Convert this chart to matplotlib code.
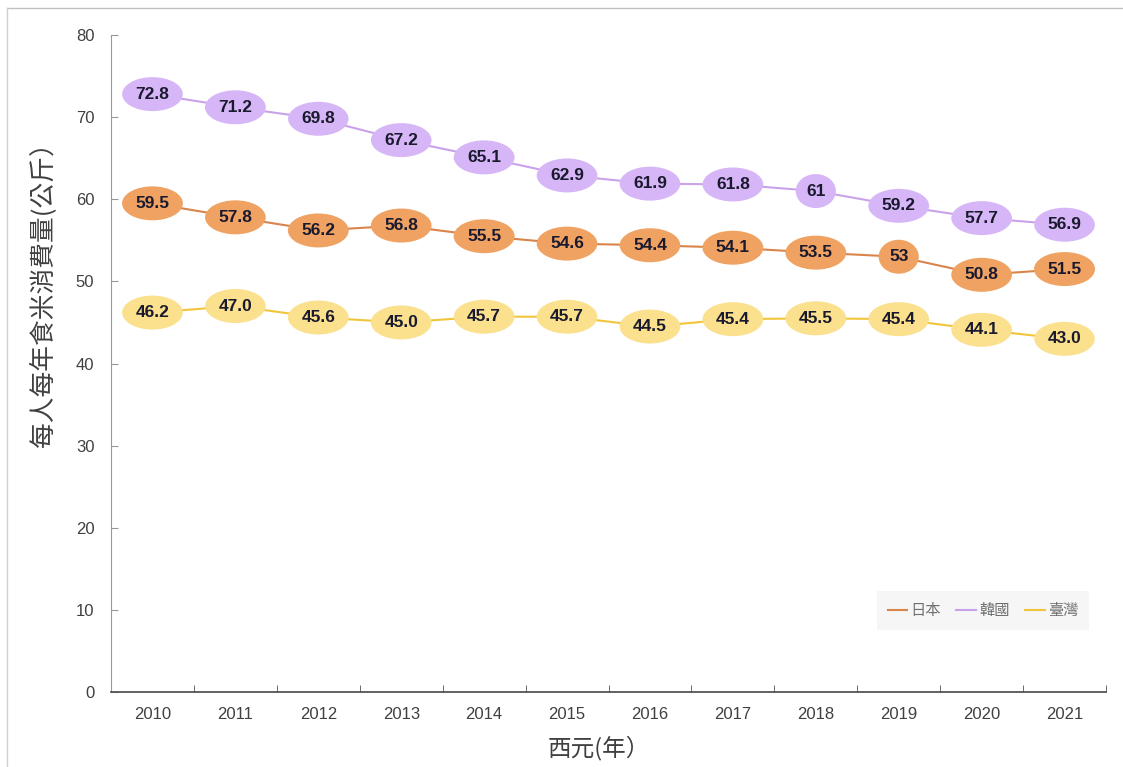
import matplotlib.pyplot as plt
from matplotlib.lines import Line2D

plt.rcParams['font.family'] = ['Liberation Sans', 'Noto Sans CJK TC', 'DejaVu Sans']

years = ['2010', '2011', '2012', '2013', '2014', '2015', '2016', '2017', '2018', '2019', '2020', '2021']
japan = [59.5, 57.8, 56.2, 56.8, 55.5, 54.6, 54.4, 54.1, 53.5, 53, 50.8, 51.5]
korea = [72.8, 71.2, 69.8, 67.2, 65.1, 62.9, 61.9, 61.8, 61, 59.2, 57.7, 56.9]
taiwan = [46.2, 47.0, 45.6, 45.0, 45.7, 45.7, 44.5, 45.4, 45.5, 45.4, 44.1, 43.0]
japan_lbl = ['59.5', '57.8', '56.2', '56.8', '55.5', '54.6', '54.4', '54.1', '53.5', '53', '50.8', '51.5']
korea_lbl = ['72.8', '71.2', '69.8', '67.2', '65.1', '62.9', '61.9', '61.8', '61', '59.2', '57.7', '56.9']
taiwan_lbl = ['46.2', '47.0', '45.6', '45.0', '45.7', '45.7', '44.5', '45.4', '45.5', '45.4', '44.1', '43.0']

fig = plt.figure(figsize=(11.23, 7.67), dpi=100)
ax = fig.add_axes([111 / 1123, 75 / 767, 995 / 1123, 657 / 767])

x = list(range(len(years)))
series = [
    ('日本', japan, japan_lbl, '#d9844a', '#f0a262'),
    ('韓國', korea, korea_lbl, '#c9a2ea', '#d7b6f7'),
    ('臺灣', taiwan, taiwan_lbl, '#f0c53a', '#fbe08e'),
]
for name, vals, lbls, lc, fc in series:
    ax.plot(x, vals, color=lc, lw=1.5, label=name, zorder=2)
    for xi, v, t in zip(x, vals, lbls):
        ax.text(xi, v, t, ha='center', va='center', fontsize=12.5, fontweight='bold',
                color='#1a1a2e', zorder=3,
                bbox=dict(boxstyle='ellipse,pad=0.26', fc=fc, ec='none'))

ax.set_xlim(-0.5, len(years) - 0.5)
ax.set_ylim(0, 80)
ax.set_yticks(range(0, 81, 10))
ax.set_xticks(x)
ax.set_xticklabels(years)
ax.set_xticks([i - 0.5 for i in range(len(years) + 1)], minor=True)
ax.tick_params(axis='x', which='major', length=0, pad=11, labelsize=12, labelcolor='#404040')
ax.tick_params(axis='x', which='minor', direction='in', length=5, color='#555555')
ax.tick_params(axis='y', direction='in', length=5, color='#999999', pad=12, labelsize=12,
               labelcolor='#404040')

for s in ['top', 'right']:
    ax.spines[s].set_visible(False)
ax.spines['left'].set_color('#999999')
ax.spines['bottom'].set_color('#555555')
ax.spines['bottom'].set_linewidth(1.3)

ax.set_ylabel('每人每年食米消費量(公斤）', fontsize=18.5, color='#404040',
              family=['Noto Sans CJK TC', 'DejaVu Sans'])
ax.yaxis.set_label_coords(-0.055, 0.614)
ax.set_xlabel('西元(年）', fontsize=17, color='#404040',
              family=['Noto Sans CJK TC', 'DejaVu Sans'])
ax.xaxis.set_label_coords(0.49, -0.066)

leg = ax.legend(loc='lower right', bbox_to_anchor=(0.986, 0.09), ncol=3, frameon=True,
                handlelength=1.3, handletextpad=0.2, columnspacing=1.0,
                borderpad=0.4, prop={'family': ['Noto Sans CJK TC'], 'size': 11})
leg.get_frame().set_facecolor('#f4f4f4')
leg.get_frame().set_edgecolor('none')
leg.get_frame().set_boxstyle('square')
for t in leg.get_texts():
    t.set_color('#707070')

# outer thin border
fig.add_artist(Line2D([7 / 1123, 1], [1 - 8 / 767, 1 - 8 / 767], transform=fig.transFigure,
                      color='#c0c0c0', lw=1))
fig.add_artist(Line2D([7 / 1123, 7 / 1123], [0, 1 - 8 / 767], transform=fig.transFigure,
                      color='#d0d0d0', lw=1))

fig.savefig('out.png', dpi=100)
